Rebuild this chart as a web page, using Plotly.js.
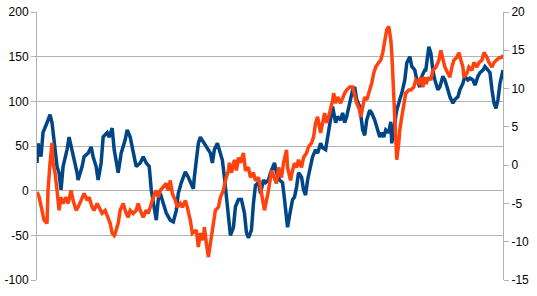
<!DOCTYPE html>
<html>
<head>
<meta charset="utf-8">
<script src="https://cdn.plot.ly/plotly-3.0.1.min.js"></script>
<style>html,body{margin:0;padding:0;background:#fff;}#chart{width:537px;height:296px;}</style>
</head>
<body>
<div id="chart"></div>
<script>
// Blue series (left axis)
const blueT = [0,1,4,6,10,13,15,17,20,22,24,26,30,32,35,37,40,41,45,47,51,54,56,59,61,64,66,70,72,75,77,81,84,88,90,93,96,99,103,106,109,112,114,117,119,121,123,126,129,133,136,139,141,144,148,151,154,156,157,159,161,163,166,168,171,173,175,177,180,182,185,187,189,191,193,196,198,201,204,207,209,211,214,216,218,221,223,226,228,231,233,237,239,242,245,247,249,250,253,255,257,259,261,264,266,268,270,273,275,278,280,283,285,288,290,293,295,298,300,303,305,307,309,312,315,317,319,322,323,325,327,329,332,334,337,339,342,344,346,348,351,353,354,357,359,362,364,367,369,372,374,377,379,382,384,387,388,391,393,395,397,400,402,405,407,410,412,415,417,420,422,425,427,430,432,435,437,440,442,445,447,450,452,454,456,458,460,462,465];
const blueV = [31,53,38,65,76,85,76,57,27,20,1,27,46,60,46,34,20,12,27,38,42,49,38,27,12,31,60,65,60,70,46,20,42,57,68,60,42,27,31,38,31,27,1,-22,-33,-10,-3,-14,-25,-33,-35,-22,-3,9,21,15,8,2,15,38,53,60,55,51,46,42,31,46,53,46,34,15,-7,-30,-50,-41,-18,-10,-10,-25,-47,-53,-44,-14,6,9,-3,12,9,12,20,31,20,12,9,-10,-29,-41,-22,-10,-7,4,20,15,1,-5,12,27,38,46,42,53,48,46,60,79,94,76,83,79,87,76,83,98,113,116,102,94,83,68,62,79,90,87,79,72,60,65,60,68,65,77,53,76,90,102,109,124,143,150,139,135,124,116,128,135,135,161,154,135,124,113,116,128,124,113,105,98,102,105,113,120,128,124,126,124,118,128,132,135,139,135,132,113,98,92,102,120,135];

// Orange series (right axis)
const orangeT = [0,2,5,7,10,11,13,15,16,18,20,22,24,26,29,31,34,36,39,41,44,47,50,52,55,57,60,62,65,68,71,73,75,77,78,81,83,86,89,91,93,96,99,101,103,106,109,111,113,116,119,121,123,126,129,131,133,135,138,140,143,145,148,150,153,155,159,161,163,166,167,169,171,172,174,176,178,181,183,186,188,191,192,194,197,199,201,203,206,208,211,213,216,218,221,223,225,227,229,231,234,237,239,241,244,246,249,250,253,255,257,259,261,264,266,269,271,274,276,278,280,283,285,287,289,292,295,296,298,300,303,305,307,309,312,315,317,319,322,323,325,327,329,332,334,336,338,341,343,345,347,349,351,353,354,355,357,358,359,361,362,364,366,368,371,373,376,378,381,383,385,387,388,391,393,395,398,401,403,405,407,410,412,414,416,419,421,423,425,426,429,431,434,436,439,441,444,446,449,451,454,456,459,461,464,465];
const orangeV = [-3.5,-4.1,-5.9,-7.2,-7.6,-3.3,0.3,2.9,0.3,-1.0,-3.3,-5.9,-4.2,-5.0,-4.2,-5.0,-3.3,-4.6,-5.9,-5.5,-4.6,-3.7,-4.6,-4.2,-5.5,-5.9,-5.0,-5.5,-6.3,-5.9,-6.8,-7.6,-8.9,-9.2,-8.9,-7.6,-5.9,-5.0,-6.3,-6.8,-5.9,-6.3,-5.9,-5.0,-5.9,-6.8,-5.9,-6.3,-5.5,-4.2,-3.3,-4.2,-3.3,-2.9,-2.4,-3.3,-2.0,-3.7,-4.6,-5.5,-5.0,-5.5,-4.6,-5.5,-7.2,-8.9,-8.5,-10.7,-8.9,-9.8,-8.1,-10.2,-12.0,-11.1,-9.4,-7.6,-5.9,-5.5,-4.2,-3.3,-2.0,-0.7,0.3,-1.0,0.7,-0.7,1.0,0.3,1.6,-0.7,-0.3,-1.6,-1.0,-2.0,-1.6,-2.9,-4.2,-5.9,-4.6,-3.3,-0.7,-1.6,-2.4,-0.3,-1.6,0.3,2.0,-0.3,-2.0,-0.7,0.3,-0.3,0.7,-0.3,1.0,1.6,2.4,2.9,3.7,5.5,6.3,4.2,5.5,6.8,5.5,6.8,8.5,9.4,8.1,8.9,8.1,8.9,9.4,9.8,10.2,10.2,8.9,8.1,7.2,6.3,7.6,8.9,8.5,9.8,10.7,12.0,12.8,13.4,13.7,14.7,16.4,17.7,18.1,16.4,14.7,11.5,7.2,3.7,0.7,2.9,4.6,6.3,8.1,9.4,9.8,9.8,10.2,11.1,10.7,11.5,10.2,11.5,10.6,11.5,11.1,12.4,12.8,13.7,15.0,13.7,12.8,12.0,11.5,12.8,13.7,14.1,14.7,13.7,12.8,11.5,12.0,12.8,12.4,13.4,12.8,13.4,13.7,14.7,14.1,13.4,12.8,13.4,13.7,14.0,14.1,14.4];

const leftTicks = [-100,-50,0,50,100,150,200];
const rightTicks = [-15,-10,-5,0,5,10,15,20];

const axisFont = {family: 'Liberation Sans, Arial, sans-serif', size: 12, color: '#000'};

const traces = [
  {x: blueT, y: blueV, type: 'scatter', mode: 'lines', yaxis: 'y',
   line: {color: '#004586', width: 3.5}, hoverinfo: 'skip'},
  {x: orangeT, y: orangeV, type: 'scatter', mode: 'lines', yaxis: 'y2',
   line: {color: '#ff420e', width: 3.5}, hoverinfo: 'skip'}
];

const layout = {
  width: 537, height: 296,
  margin: {l: 37, r: 34, t: 12, b: 16, pad: 0},
  paper_bgcolor: '#fff', plot_bgcolor: '#fff',
  showlegend: false,
  xaxis: {range: [0, 465], showgrid: false, zeroline: false, showticklabels: false,
          ticks: '', showline: false},
  yaxis: {range: [-100, 200], tickvals: leftTicks, ticktext: leftTicks.map(String),
          showgrid: true, gridcolor: '#b3b3b3', gridwidth: 1, zeroline: false,
          showline: true, linecolor: '#b3b3b3', linewidth: 1,
          ticks: 'outside', ticklen: 5, tickcolor: '#b3b3b3', tickfont: axisFont},
  yaxis2: {range: [-15, 20], tickvals: rightTicks, ticktext: rightTicks.map(String),
           overlaying: 'y', side: 'right', showgrid: false, zeroline: false,
           showline: true, linecolor: '#b3b3b3', linewidth: 1,
           ticks: 'outside', ticklen: 5, tickcolor: '#b3b3b3', tickfont: axisFont}
};

Plotly.newPlot('chart', traces, layout, {staticPlot: true, displayModeBar: false});
</script>
</body>
</html>
